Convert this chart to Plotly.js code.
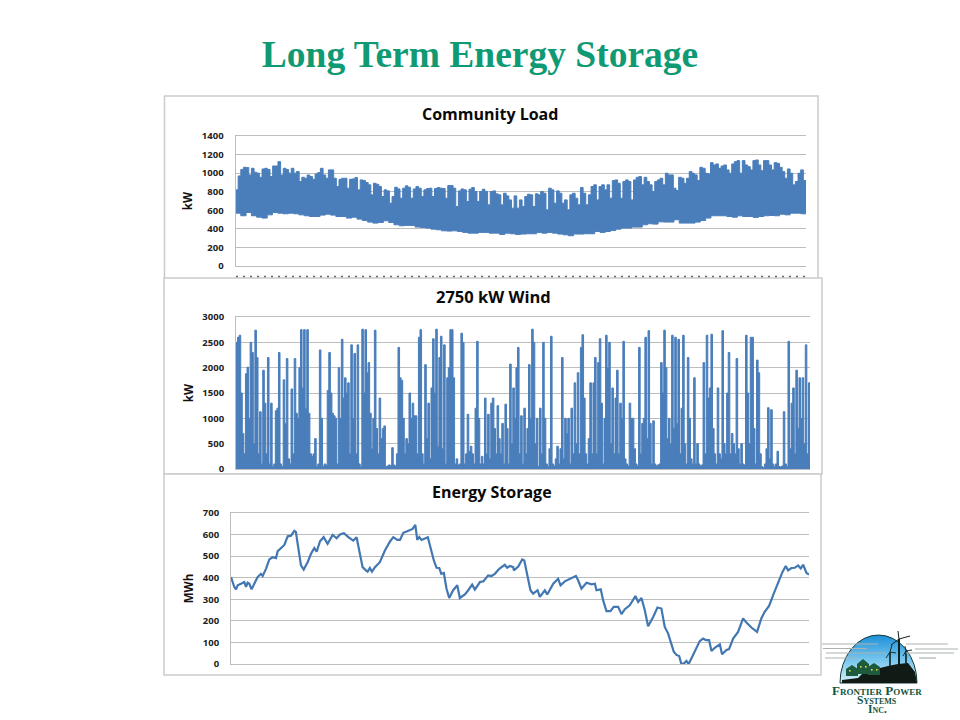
<!DOCTYPE html>
<html>
<head>
<meta charset="utf-8">
<script src="https://cdn.plot.ly/plotly-3.0.1.min.js"></script>
<style>html,body{margin:0;padding:0;background:#fff}#c{width:960px;height:720px}</style>
</head>
<body>
<div id="c"></div>
<script>
const mainTitle = "Long Term Energy Storage";
const chartTitles = ["Community Load", "2750 kW Wind", "Energy Storage"];
const unitLabels = ["kW", "kW", "MWh"];

// Upper and lower edge of the hourly load band, kW, read along the year
const loadHigh = [820,970,1040,1063,1060,980,1052,1010,1000,955,1045,1052,1040,963,1077,1077,1124,980,1052,1040,1000,1052,1000,1017,910,955,945,980,963,934,992,1006,1052,980,945,1035,1035,945,856,934,945,945,838,934,938,952,820,927,920,899,874,766,891,880,856,748,820,809,677,748,848,830,730,838,863,848,730,830,856,838,748,820,834,838,748,834,845,838,834,730,866,866,838,641,809,830,820,695,827,845,802,695,802,827,802,659,802,809,777,766,659,784,755,712,623,755,623,712,641,748,773,766,641,777,766,802,784,605,838,820,677,809,784,677,712,605,766,784,730,659,845,784,659,766,856,874,712,856,874,820,874,730,920,927,891,730,910,927,910,712,927,955,963,874,955,910,874,802,910,927,945,874,999,981,981,838,813,955,945,891,945,1017,999,981,920,1063,1052,999,992,1113,1088,1099,1052,1077,1088,1035,999,1099,1124,1135,999,1135,1088,1070,1035,1135,1142,1088,1027,1135,1135,1088,1035,1113,1106,1063,1017,945,1045,999,874,910,999,1035,920,659];
const loadLow = [569,541,576,541,526,516,551,576,569,562,569,562,551,541,533,533,548,558,548,533,533,516,526,505,490,473,462,469,487,469,444,433,437,437,419,415,408,397,390,379,376,379,372,362,354,354,362,362,354,354,340,354,347,340,344,347,347,362,354,362,354,344,336,326,344,344,347,347,372,362,372,383,397,408,408,419,419,444,455,451,476,473,473,498,462,462,462,473,490,516,541,541,541,533,526,541,533,533,523,533,541,544,541,558,551,569,569,562,562];

// Wind output, kW, one reading per step along the year
const windKW = [2500,2600,2640,1500,700,300,1880,2010,1000,2500,2300,500,2740,2200,300,1130,100,1950,1300,300,2200,100,1300,50,100,1150,1200,2300,100,50,1760,900,2180,200,100,1580,300,2180,1100,1000,2000,2750,1600,2750,1200,2750,1100,300,250,300,600,50,100,2350,1000,50,100,80,1550,2300,1500,1100,1050,1000,100,2000,1000,2560,1400,1800,1500,1700,300,2450,1000,2280,300,2450,100,50,2760,1500,2750,1900,2100,1100,400,1000,2740,800,300,1400,600,800,850,50,60,80,70,420,80,60,300,2400,1800,1750,1000,300,600,500,1500,1000,1300,1050,1050,300,2600,2750,300,100,2060,600,1300,200,1600,2570,1500,2760,450,2200,2620,400,2450,100,1800,2000,2750,2750,1800,100,200,80,100,2680,2500,100,300,1080,350,450,300,100,1200,2520,1000,100,250,100,1400,300,1080,200,1300,1400,800,300,1250,600,
300,900,100,1280,800,100,2070,500,1600,1000,2000,2400,300,1050,100,1200,300,800,2060,1000,2760,2500,500,1000,50,1200,300,2500,1000,100,50,400,2620,100,60,200,450,100,400,2200,200,1000,700,1000,100,1200,300,1700,500,1900,300,2400,2650,1400,300,100,600,1700,300,1700,2200,300,2100,2570,1300,100,1000,2640,2000,2500,500,1600,300,1400,1950,300,1300,1000,2520,200,100,60,1300,1000,1000,400,100,60,2400,300,900,1000,2600,600,2730,900,100,950,100,60,80,100,2100,1500,2740,2000,600,1000,500,2640,800,2600,900,2560,300,1200,2640,500,100,2200,1000,200,100,1800,100,500,100,60,80,2100,300,2640,1400,1600,2660,800,300,100,1600,300,200,2730,500,300,1500,2300,300,700,500,300,2180,400,100,500,100,80,2640,1500,500,2600,2600,800,100,2150,1900,300,50,30,100,400,1210,200,1170,100,50,100,350,50,40,60,1130,100,50,2520,400,1300,1600,300,1950,800,1800,1000,1800,500,2450,300,1700,50];

// Stored energy, MWh, at the day of the year where each reading was taken
const storageDay = [0,2.1,3.2,4.2,6.3,8.4,9.5,10.5,11.6,13,14.7,16.8,18.9,20,22.1,24.2,26.3,28.4,29.5,31.6,33.7,35.8,37.9,40,41,42.1,44.2,45.9,48.4,50.5,52.6,54.1,56.2,58.5,61,64.2,66.7,68.8,71.3,74.1,77.2,79.3,81.4,83.1,85.2,86.3,87.7,89,90.9,94,97.2,100.4,102.5,105,106.7,108.8,110.9,113.4,114.7,116.4,117.6,118.9,120.3,124.3,126.2,128.1,129.8,131.5,132.8,134.4,136.1,137.8,140.3,142.9,144.5,147.7,149.8,152.3,154,157.2,159.3,162.4,164.5,166.6,169.4,172.9,174.4,176.1,178.2,178.6,181.4,183.9,185.2,186.6,189.1,190.8,193.6,195,198.2,199.7,203.5,206.6,208.1,210.8,214,217.8,219.2,221.3,224.5,227.7,229.8,230.8,233.5,235,237.1,239.6,241.7,244.5,246.6,248.7,251.8,255.4,257.1,259.2,261.3,263.4,266.6,269.3,271.8,273.9,276,278.2,279.6,281.3,283,284.4,286.1,287.6,289,291.8,296,298.1,299.8,301.9,303.4,305.5,308.7,310.1,312.9,314.5,317.1,320.2,323.4,325.5,328.6,332.2,334.9,337,339.8,342.3,345.5,348.2,350.3,351.8,353.9,356,358.1,359.8,361.3,363.4,365];
const storageMWh = [403,357,346,365,372,380,357,377,372,346,372,403,418,408,441,485,495,491,523,537,552,592,595,617,611,557,457,438,472,511,537,521,569,588,557,598,583,600,606,588,572,588,518,449,434,428,445,428,449,472,526,568,588,575,575,608,614,623,626,645,575,588,575,588,534,480,446,445,418,422,349,306,342,365,306,323,342,368,345,380,383,411,408,418,441,460,446,454,449,434,452,485,480,434,342,326,342,311,342,322,372,395,365,383,395,408,388,349,377,369,372,342,346,295,245,245,265,265,231,254,272,315,288,306,249,175,218,262,257,172,142,88,57,42,37,0,3,14,0,42,106,118,111,111,60,75,91,45,65,69,118,149,211,192,169,149,211,242,269,318,380,426,454,434,445,446,457,443,460,422,415];

const loadTicks = [0,200,400,600,800,1000,1200,1400];
const windTicks = [0,500,1000,1500,2000,2500,3000];
const storageTicks = [0,100,200,300,400,500,600,700];

const BLUE = "#4a7ebb", GRID = "#bdbdbd", EDGE = "#cbcbcb", TICKTXT = "#222";
const W = 960, H = 720;
const px = x => x / W, py = y => 1 - y / H;
const yearSpan = arr => arr.map((_, i) => i * 365 / (arr.length - 1));

const traces = [
  {x: yearSpan(loadLow), y: loadLow, xaxis: "x", yaxis: "y", mode: "lines", line: {color: BLUE, width: 1, shape: "hv"}, hoverinfo: "skip", name: "Load low"},
  {x: yearSpan(loadHigh), y: loadHigh, xaxis: "x", yaxis: "y", mode: "lines", line: {color: BLUE, width: 1, shape: "hv"}, fill: "tonexty", fillcolor: BLUE, name: "Load high"},
  {x: yearSpan(windKW), y: windKW, xaxis: "x2", yaxis: "y2", mode: "lines", line: {color: BLUE, width: 1, shape: "hv"}, fill: "tozeroy", fillcolor: BLUE, name: "Wind"},
  {x: storageDay, y: storageMWh, xaxis: "x3", yaxis: "y3", mode: "lines", line: {color: "#4277b2", width: 2.2}, name: "Storage"}
];

const xAxis = (l, r, anchor) => ({domain: [px(l), px(r)], range: [0, 365], anchor, showgrid: false, zeroline: false, showticklabels: false, ticks: "", showline: true, mirror: true, linecolor: GRID, linewidth: 1, fixedrange: true});
const yAxis = (t, b, anchor, range, tickvals, title, standoff) => ({
  domain: [py(b), py(t)], range, anchor, tickmode: "array", tickvals, ticktext: tickvals.map(String),
  gridcolor: GRID, gridwidth: 1, zeroline: false, showline: true, linecolor: GRID, linewidth: 1,
  ticks: "outside", ticklen: 9, tickcolor: "rgba(255,255,255,0)", fixedrange: true,
  tickfont: {family: "Open Sans", size: 9.5, color: TICKTXT, weight: 700},
  title: {text: title, standoff, font: {family: "Open Sans", size: 11.5, color: "#111", weight: 700}}
});

const panel = (x0, y0, x1, y1) => ({type: "rect", xref: "paper", yref: "paper", x0: px(x0), x1: px(x1), y0: py(y0), y1: py(y1), fillcolor: "#fff", line: {color: EDGE, width: 1.5}, layer: "below"});
const chartTitle = (text, cx, cy, size) => ({text, xref: "paper", yref: "paper", x: px(cx), y: py(cy), xanchor: "center", yanchor: "middle", showarrow: false, font: {family: "Open Sans", size, color: "#0a0a0a", weight: 700}});
const logoText = (text, cx, cy, size) => ({text, xref: "paper", yref: "paper", x: px(cx), y: py(cy), xanchor: "center", yanchor: "middle", showarrow: false, font: {family: "Liberation Serif", size, color: "#12543f", weight: 700, variant: "small-caps"}});

const logoSvg = `<svg xmlns="http://www.w3.org/2000/svg" width="140" height="62" viewBox="820 625 140 62">
<defs><linearGradient id="s" x1="0" y1="0" x2="0" y2="1"><stop offset="0" stop-color="#1c8fd8"/><stop offset="0.55" stop-color="#7cc9ef"/><stop offset="1" stop-color="#d8f1fa"/></linearGradient></defs>
<path d="M840 683 A38.5 48 0 0 1 917 683 Z" fill="url(#s)" stroke="#12383a" stroke-width="1"/>
<path d="M842 683 L842 680 L858 678 L866 670 L880 668 L888 666 L898 664 L908 663 L915 672 L917 683 Z" fill="#121a16"/>
<path d="M846 676 l0 -7 l6 -4 l6 4 l0 7 Z M857 674 l0 -10 l6 -5 l6 5 l0 10 Z M868 675 l0 -8 l6 -4 l6 4 l0 8 Z" fill="#1e5a3c"/>
<g fill="#e8d84a"><rect x="849" y="670" width="1.6" height="1.6"/><rect x="860" y="666" width="1.6" height="1.6"/><rect x="865" y="666" width="1.6" height="1.6"/><rect x="871" y="669" width="1.6" height="1.6"/><rect x="876" y="669" width="1.6" height="1.6"/></g>
<g stroke="#12201c" fill="none"><path d="M899 664 L899 639" stroke-width="2"/><path d="M899 639 L898 631 M899 639 L910 636 M899 639 L891 645" stroke-width="1"/><path d="M890 666 L890 652" stroke-width="1.6"/><path d="M890 652 L892 645 M890 652 L886 658 M890 652 L896 653" stroke-width="0.9"/><path d="M906 664 L906 651" stroke-width="1.6"/><path d="M906 651 L905 646 M906 651 L912 650 M906 651 L903 656" stroke-width="0.9"/></g>
<g stroke="#a9b3b1" stroke-width="1.2"><path d="M822 644 H878"/><path d="M823 648.5 H867"/><path d="M826 653 H886"/><path d="M825 658 H858"/><path d="M906 644 H948"/><path d="M915 649 H958"/><path d="M906 653 H954"/><path d="M919 658 H936"/></g>
</svg>`;

const layout = {
  width: W, height: H, autosize: false, margin: {l: 0, r: 0, t: 0, b: 0},
  paper_bgcolor: "#fff", plot_bgcolor: "rgba(0,0,0,0)", showlegend: false,
  title: {text: "<b>" + mainTitle + "</b>", x: 0.5, xanchor: "center", xref: "paper", y: py(54), yanchor: "middle", yref: "paper", font: {family: "Liberation Serif", size: 37.5, color: "#0f9a73"}},
  xaxis: xAxis(235.5, 806, "y"),
  yaxis: yAxis(136, 266, "x", [0, 1400], loadTicks, unitLabels[0], 6),
  xaxis2: xAxis(236, 810, "y2"),
  yaxis2: yAxis(317, 469, "x2", [0, 3000], windTicks, unitLabels[1], 6),
  xaxis3: xAxis(231, 809, "y3"),
  yaxis3: yAxis(513, 664, "x3", [0, 700], storageTicks, unitLabels[2], 6),
  shapes: [
    panel(164.5, 96, 818, 290),
    panel(164, 278, 822, 474),
    panel(164, 474, 821, 675),
    // top edge of the x labels that the next panel hides
    {type: "line", xref: "paper", yref: "paper", x0: px(236), x1: px(806), y0: py(276.5), y1: py(276.5), line: {color: "#666", width: 1.5, dash: "2px,5px"}, layer: "below"}
  ],
  annotations: [
    chartTitle(chartTitles[0], 490, 114, 16),
    chartTitle(chartTitles[1], 493, 296, 16.5),
    chartTitle(chartTitles[2], 492, 492, 16),
    logoText("Frontier Power", 877, 690.5, 13),
    logoText("Systems", 877, 700, 11.5),
    logoText("Inc.", 877, 709, 11.5)
  ],
  images: [{source: "data:image/svg+xml;base64," + btoa(logoSvg), xref: "paper", yref: "paper", x: px(820), y: py(625), sizex: 140 / W, sizey: 62 / H, sizing: "stretch", xanchor: "left", yanchor: "top", layer: "below"}]
};

Plotly.newPlot("c", traces, layout, {displayModeBar: false, staticPlot: true, responsive: false});
</script>
</body>
</html>
